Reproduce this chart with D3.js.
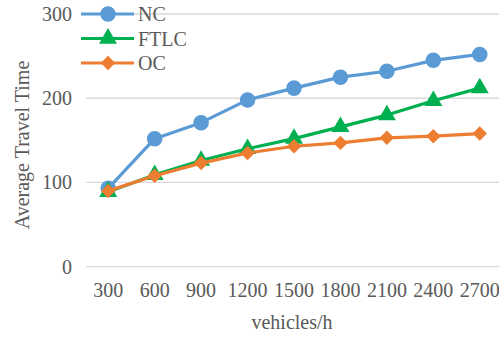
<!DOCTYPE html>
<html>
<head>
<meta charset="utf-8">
<script src="https://cdn.jsdelivr.net/npm/d3@7"></script>
<style>
  html, body { margin: 0; padding: 0; background: #fff; }
  svg { display: block; }
  svg text { font-family: 'Liberation Serif', 'Times New Roman', 'DejaVu Serif', serif !important; }
</style>
</head>
<body>
<svg id="chart" width="499" height="337"></svg>
<script>
// Flow rates (vehicles per hour)
const categories = ["300", "600", "900", "1200", "1500", "1800", "2100", "2400", "2700"];
// Average travel time per control strategy
const ncValues   = [93, 152, 171, 198, 212, 225, 232, 245, 252];
const ftlcValues = [89, 109, 126, 140, 152, 166, 180, 197, 212];
const ocValues   = [90, 108, 123, 135, 143, 147, 153, 155, 158];
const yTicks = [0, 100, 200, 300];
const seriesNames = ["NC", "FTLC", "OC"];

const TEXT = "#595959";

const series = [
  { name: seriesNames[0], values: ncValues,   color: "#5B9BD5", symbol: d3.symbolCircle,   size: 190, rot: 0 },
  { name: seriesNames[1], values: ftlcValues, color: "#00B050", symbol: d3.symbolTriangle, size: 140, rot: 0 },
  { name: seriesNames[2], values: ocValues,   color: "#ED7D31", symbol: d3.symbolSquare,   size: 105, rot: 45 }
];

const svg = d3.select("#chart");

const x = d3.scaleBand().domain(categories).range([85, 503]);
const y = d3.scaleLinear().domain([0, 300]).range([266.7, 14]);

// Horizontal gridlines
svg.append("g")
  .selectAll("line")
  .data(yTicks)
  .join("line")
  .attr("x1", 86).attr("x2", 499)
  .attr("y1", d => y(d)).attr("y2", d => y(d))
  .attr("stroke", "#d9d9d9").attr("stroke-width", 1.3);

// Y tick labels
const yAxis = d3.axisLeft(y).tickValues(yTicks).tickSize(0).tickPadding(0);
const gy = svg.append("g").attr("transform", "translate(72,0)").call(yAxis);
gy.select(".domain").remove();
gy.selectAll("text").attr("font-size", 20).attr("fill", TEXT);

// X tick labels
const xAxis = d3.axisBottom(x).tickSize(0).tickPadding(0);
const gx = svg.append("g").attr("transform", "translate(0,283)").call(xAxis);
gx.select(".domain").remove();
gx.selectAll("text").attr("font-size", 20).attr("fill", TEXT);

// Axis titles
svg.append("text")
  .attr("transform", "translate(29,145) rotate(-90)")
  .attr("text-anchor", "middle")
  .attr("font-size", 20)
  .attr("fill", TEXT)
  .text("Average Travel Time");

svg.append("text")
  .attr("x", 292).attr("y", 329)
  .attr("text-anchor", "middle")
  .attr("font-size", 20)
  .attr("fill", TEXT)
  .text("vehicles/h");

const cx = d => x(d) + x.bandwidth() / 2;
const line = d3.line().x(d => cx(d.cat)).y(d => y(d.v));

series.forEach(s => {
  const pts = categories.map((c, i) => ({ cat: c, v: s.values[i] }));
  const g = svg.append("g");
  g.append("path")
    .datum(pts)
    .attr("d", line)
    .attr("fill", "none")
    .attr("stroke", s.color)
    .attr("stroke-width", 3.2)
    .attr("stroke-linejoin", "round");
  g.selectAll("path.marker")
    .data(pts)
    .join("path")
    .attr("class", "marker")
    .attr("d", d3.symbol().type(s.symbol).size(s.size))
    .attr("transform", d => `translate(${cx(d.cat)},${y(d.v)}) rotate(${s.rot})`)
    .attr("fill", s.color);
});

// Legend
const legend = svg.append("g");
series.forEach((s, i) => {
  const ly = 14 + i * 24.5;
  legend.append("line")
    .attr("x1", 81).attr("x2", 134)
    .attr("y1", ly).attr("y2", ly)
    .attr("stroke", s.color).attr("stroke-width", 3.2);
  legend.append("path")
    .attr("d", d3.symbol().type(s.symbol).size(s.size))
    .attr("transform", `translate(108,${ly}) rotate(${s.rot})`)
    .attr("fill", s.color);
  legend.append("text")
    .attr("x", 138).attr("y", ly)
    .attr("dy", "0.35em")
    .attr("font-size", 20)
    .attr("fill", TEXT)
    .text(s.name);
});
</script>
</body>
</html>
